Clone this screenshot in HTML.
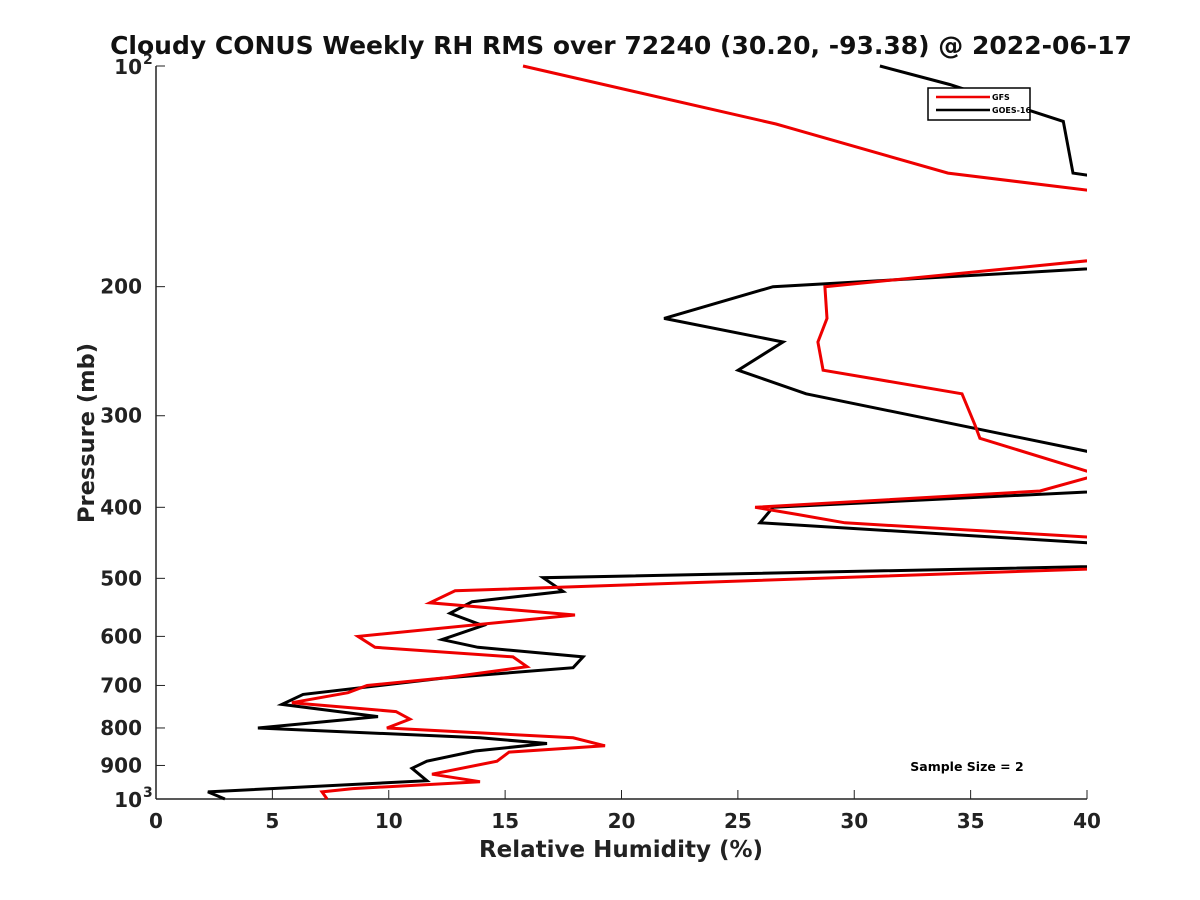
<!DOCTYPE html>
<html><head><meta charset="utf-8"><style>
body{margin:0;background:#fff;}
svg{display:block;font-family:"DejaVu Sans","Liberation Sans",sans-serif;}
</style></head><body>
<svg id="chart" width="1200" height="900">
<defs><clipPath id="clip"><rect x="156" y="60" width="931" height="745"/></clipPath></defs>
<text x="621" y="54" text-anchor="middle" font-size="25" font-weight="bold" fill="#111">Cloudy CONUS Weekly RH RMS over 72240 (30.20, -93.38) @ 2022-06-17</text>
<g id="axes"></g>
<g id="series" clip-path="url(#clip)"></g>
<text x="621" y="857" text-anchor="middle" font-size="23" font-weight="bold" fill="#222">Relative Humidity (%)</text>
<text transform="translate(94,433) rotate(-90)" text-anchor="middle" font-size="22.5" font-weight="bold" fill="#222">Pressure (mb)</text>
<g>
<rect x="928" y="88" width="102" height="32" fill="#fff" stroke="#000" stroke-width="1.5"/>
<line x1="936" y1="97" x2="990" y2="97" stroke="#e00" stroke-width="2.5"/>
<text x="992" y="100" font-size="8" font-weight="bold">GFS</text>
<line x1="936" y1="110" x2="990" y2="110" stroke="#000" stroke-width="2.5"/>
<text x="992" y="113" font-size="8" font-weight="bold">GOES-16</text>
</g>
<text x="967" y="771" text-anchor="middle" font-size="12.5" font-weight="bold">Sample Size = 2</text>
</svg>
<script>
const gfsP=[100,120,140,167,200,221,238,260,280,309,322,361,380,400,409,420,468,520,540,561,600,621,640,660,683,700,716,739,760,778,800,825,846,863,888,925,947,968,978,1000];
const gfsRH=[15.77,26.64,34.03,53.7,28.74,28.83,28.44,28.66,34.63,35.19,35.40,40.5,37.98,25.74,27.54,29.60,54.8,12.85,11.77,18.00,8.68,9.41,15.34,15.94,12.50,9.07,8.25,5.84,10.31,10.91,9.92,17.92,19.29,15.17,14.65,11.86,13.92,8.46,7.13,7.35];
const goesP=[100,106,119,140,174,200,221,238,260,280,372,400,420,473,499,521,538,558,580,606,621,640,662,684,720,743,772,800,825,840,860,888,908,944,978,1000];
const goesRH=[31.1,34.1,38.98,39.4,60.2,26.51,21.83,26.94,25.01,27.93,46.9,26.51,25.95,52.7,16.63,17.49,13.58,12.63,14.05,12.29,13.83,18.35,17.92,12.33,6.32,5.41,9.54,4.38,13.92,16.80,13.71,11.64,11.00,11.64,2.23,2.96];
const xTicks=[0,5,10,15,20,25,30,35,40];
const yTicks=[100,200,300,400,500,600,700,800,900,1000];
const yTickLabels=["10^2","200","300","400","500","600","700","800","900","10^3"];
const NS="http://www.w3.org/2000/svg";
const X0=156,X1=1087,Y0=66,Y1=799;
function xs(v){return X0+(v/40)*(X1-X0);}
function ys(p){return Y0+(Math.log10(p)-2)*(Y1-Y0);}
function mk(t,a,parent){const e=document.createElementNS(NS,t);for(const k in a)e.setAttribute(k,a[k]);parent.appendChild(e);return e;}
const ax=document.getElementById('axes');
const la=mk('line',{x1:X0,y1:Y0,x2:X0,y2:Y1,stroke:'#222','stroke-width':1.5},ax);


const lb=mk('line',{x1:X0,y1:Y1,x2:X1,y2:Y1,stroke:'#222','stroke-width':1.5},ax);


xTicks.forEach(v=>{
 const x=xs(v);
 mk('line',{x1:x,y1:Y1,x2:x,y2:Y1-9,stroke:'#222','stroke-width':1},ax);
 const t=mk('text',{x:x,y:Y1+29,'text-anchor':'middle','font-size':20,'font-weight':'bold',fill:'#222'},ax);
 t.textContent=v;
 
 
});
yTicks.forEach((p,i)=>{
 const y=ys(p);
 mk('line',{x1:X0,y1:y,x2:X0+9,y2:y,stroke:'#222','stroke-width':1},ax);
 const lab=yTickLabels[i];
 if(lab.indexOf('^')>=0){
  const parts=lab.split('^');
  const t=mk('text',{x:X0-14,y:y+8,'text-anchor':'end','font-size':20,'font-weight':'bold',fill:'#222'},ax);
  t.textContent=parts[0];
  
  
  const s=mk('text',{x:X0-13,y:y-2,'text-anchor':'start','font-size':14,'font-weight':'bold',fill:'#222'},ax);
  s.textContent=parts[1];
  
  
 } else {
  const t=mk('text',{x:X0-14,y:y+7,'text-anchor':'end','font-size':20,'font-weight':'bold',fill:'#222'},ax);
  t.textContent=lab;
  
  
 }
});
const sg=document.getElementById('series');
function line(P,R,color,name){
 const d=P.map((p,i)=>(i?'L':'M')+xs(R[i]).toFixed(1)+','+ys(p).toFixed(1)).join('');
 const e=mk('path',{d:d,fill:'none',stroke:color,'stroke-width':3,'stroke-linejoin':'miter'},sg);
 
 
}
line(goesP,goesRH,'#000','goes16-line');
line(gfsP,gfsRH,'#e00','gfs-line');
</script>
</body></html>
